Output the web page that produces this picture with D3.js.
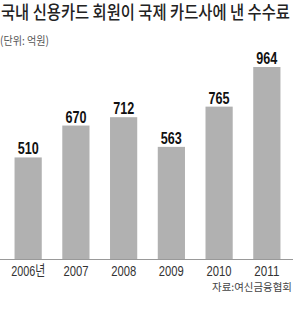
<!DOCTYPE html>
<html><head><meta charset="utf-8">
<script src="https://cdn.jsdelivr.net/npm/d3@7"></script>
<style>
body{margin:0;background:#fff;}
svg{display:block;}
</style></head>
<body><svg id="c" width="295" height="309"></svg>
<script>
const categories = ["2006년","2007","2008","2009","2010","2011"];
const values = [510, 670, 712, 563, 765, 964];
const title = "국내 신용카드 회원이 국제 카드사에 낸 수수료";
const unitLabel = "(단위: 억원)";
const source = "자료:여신금융협회";

const svg = d3.select("#c");
const baseY = 259;
const x = d3.scaleBand().domain(categories).range([5, 290]).paddingInner(0.43).paddingOuter(0.2);
const y = d3.scaleLinear().domain([0, 964]).range([baseY, 67]);
const sans = "'Liberation Sans',Arial,sans-serif";

const tg = svg.append("g");
const tt = tg.append("text").attr("x", 0).attr("y", 19)
  .attr("font-family", "'Noto Sans CJK KR',sans-serif").attr("font-size", 18)
  .attr("font-weight", 500).attr("fill", "#222")
  .text(title);
const natural = tt.node().getComputedTextLength();
tg.attr("transform", `translate(1,0) scale(${289/natural},1)`);

svg.append("text").attr("x", 0).attr("y", 45)
  .attr("font-family", "'Noto Sans CJK KR',sans-serif").attr("font-size", 11.5)
  .attr("fill", "#555").attr("textLength", 49).attr("lengthAdjust","spacingAndGlyphs").text(unitLabel);

svg.selectAll("rect.bar").data(values).join("rect").attr("class","bar")
  .attr("x", (d,i)=>x(categories[i])).attr("width", x.bandwidth())
  .attr("y", d=>y(d)).attr("height", d=>baseY - y(d)).attr("fill", "#b1b1b1");

svg.selectAll("text.val").data(values).join("text").attr("class","val")
  .attr("x", (d,i)=>x(categories[i]) + x.bandwidth()/2).attr("y", d=>y(d)-3)
  .attr("text-anchor","middle").attr("font-family", sans).attr("font-size", 16.5)
  .attr("font-weight","bold").attr("fill","#111")
  .attr("textLength", 21).attr("lengthAdjust","spacingAndGlyphs").text(d=>d);

svg.append("line").attr("x1",0).attr("x2",293).attr("y1",baseY+0.5).attr("y2",baseY+0.5)
  .attr("stroke","#999").attr("stroke-width",1);

const xAxis = d3.axisBottom(x).tickSize(0).tickPadding(0);
const ax = svg.append("g").attr("transform",`translate(0,${baseY+17})`).call(xAxis);
ax.select(".domain").remove();
ax.selectAll("text").attr("font-family", "'Liberation Sans','Noto Sans CJK KR',sans-serif").attr("font-size", 15)
  .attr("fill","#333").attr("dy", 0)
  .attr("textLength", d => d.length > 4 ? 34 : 25).attr("lengthAdjust","spacingAndGlyphs");

svg.append("text").attr("x", 292).attr("y", 291).attr("text-anchor","end")
  .attr("font-family", "'Noto Sans CJK KR',sans-serif").attr("font-size", 10.5)
  .attr("fill","#444").attr("textLength", 80).attr("lengthAdjust","spacingAndGlyphs").text(source);
</script></body></html>
